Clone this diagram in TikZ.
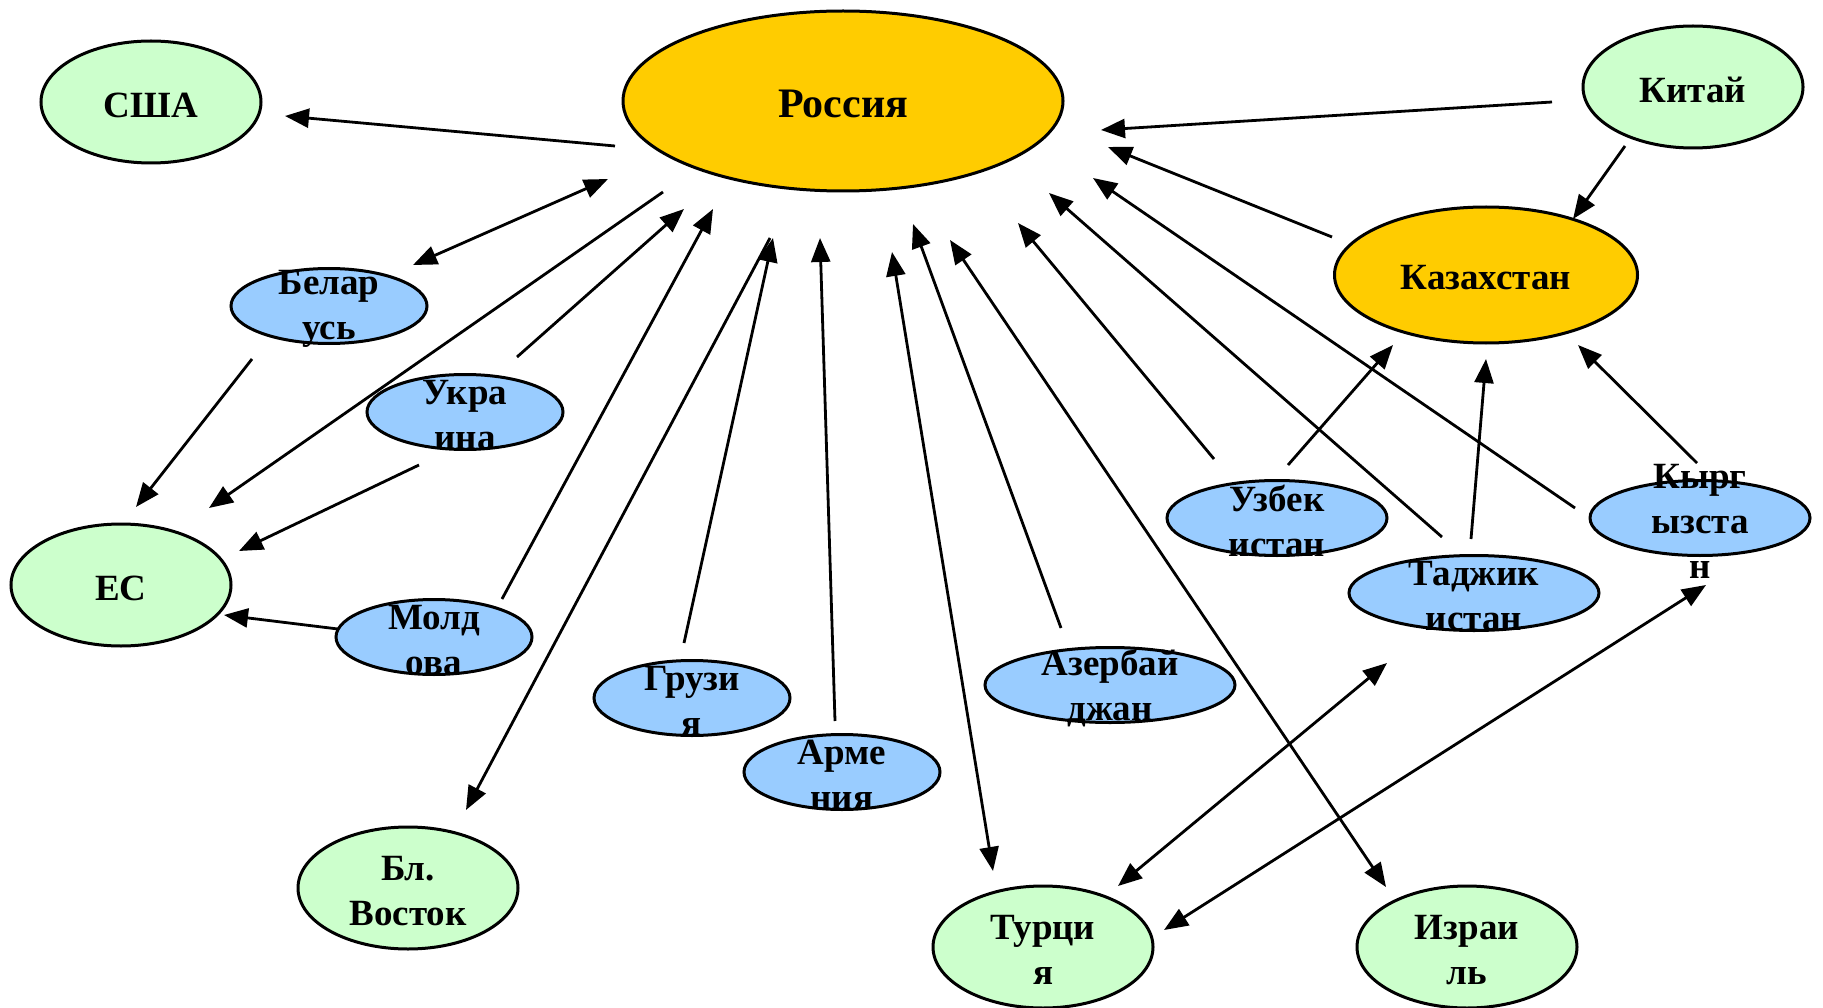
\documentclass[tikz,border=0pt]{standalone}
\usepackage{fontspec}
\setmainfont{Liberation Serif}
\usetikzlibrary{shapes.geometric,arrows.meta}
\definecolor{cgreen}{HTML}{CCFFCC}
\definecolor{cyellow}{HTML}{FFCC00}
\definecolor{cblue}{HTML}{99CCFF}
\tikzset{
  ell/.style={ellipse, draw=black, line width=3pt, inner sep=0pt},
  greenell/.style={ell, fill=cgreen, minimum width=220pt, minimum height=122pt},
  yellowell/.style={ell, fill=cyellow},
  blueell/.style={ell, fill=cblue, minimum width=196pt, minimum height=75pt},
  midblue/.style={blueell, minimum width=220pt},
  wideblue/.style={blueell, minimum width=250pt},
  lbl/.style={font=\fontsize{37}{45}\selectfont\bfseries, align=center, inner sep=0pt, yshift=-3pt},
  biglbl/.style={lbl, font=\fontsize{42}{50}\selectfont\bfseries},
  tip/.tip={Triangle[length=24pt,width=19pt]},
  arr/.style={line width=2.8pt, -tip},
  darr/.style={line width=2.8pt, tip-tip},
}
\begin{document}
\begin{tikzpicture}[x=1pt,y=-1pt]
\useasboundingbox (0,0) rectangle (1823,1008);

% ellipses
\node[greenell] (usa) at (151,102) {};
\node[yellowell, minimum width=440pt, minimum height=180pt] (rus) at (843,101) {};
\node[greenell] (chn) at (1693,87) {};
\node[yellowell, minimum width=303pt, minimum height=136pt] (kaz) at (1486,275) {};
\node[blueell] (bel) at (329,306) {};
\node[blueell] (ukr) at (465,412) {};
\node[greenell] (eu) at (121,585) {};
\node[blueell] (mol) at (434,637) {};
\node[blueell] (geo) at (692,698) {};
\node[blueell] (arm) at (842,772) {};
\node[wideblue] (aze) at (1110,685) {};
\node[midblue] (uzb) at (1277,518) {};
\node[wideblue] (taj) at (1474,593) {};
\node[midblue] (kyr) at (1700,518) {};
\node[greenell] (blv) at (408,888) {};
\node[greenell] (tur) at (1043,947) {};
\node[greenell] (isr) at (1467,947) {};

% labels
\node[lbl] (usa-t) at (usa) {США};
\node[biglbl] (rus-t) at (rus) {Россия};
\node[lbl] (chn-t) at (chn) {Китай};
\node[lbl] (kaz-t) at (kaz) {Казахстан};
\node[lbl] (bel-t) at (bel) {Белар\\усь};
\node[lbl] (ukr-t) at (ukr) {Укра\\ина};
\node[lbl] (eu-t) at (eu) {ЕС};
\node[lbl] (mol-t) at (mol) {Молд\\ова};
\node[lbl] (geo-t) at (geo) {Грузи\\я};
\node[lbl] (arm-t) at (arm) {Арме\\ния};
\node[lbl] (aze-t) at (aze) {Азербай\\джан};
\node[lbl] (uzb-t) at (uzb) {Узбек\\истан};
\node[lbl] (taj-t) at (taj) {Таджик\\истан};
\node[lbl] (kyr-t) at (kyr) {Кырг\\ызста\\н};
\node[lbl] (blv-t) at (blv) {Бл.\\Восток};
\node[lbl] (tur-t) at (tur) {Турци\\я};
\node[lbl] (isr-t) at (isr) {Израи\\ль};

% connector end points
\coordinate (rus-usa) at (615,146);   \coordinate (usa-in) at (285,116);
\coordinate (bel-rus) at (413,265);   \coordinate (rus-bel) at (608,179);
\coordinate (bel-eu) at (252,359);    \coordinate (eu-bel) at (136,507);
\coordinate (rus-eu) at (663,192);    \coordinate (eu-rus) at (209,508);
\coordinate (ukr-rus) at (517,357);   \coordinate (rus-ukr) at (684,209);
\coordinate (ukr-eu) at (419,465);    \coordinate (eu-ukr) at (239,551);
\coordinate (mol-eu) at (338,629);    \coordinate (eu-mol) at (224,615);
\coordinate (mol-rus) at (502,599);   \coordinate (rus-mol) at (713,209);
\coordinate (rus-blv) at (770,238);   \coordinate (blv-rus) at (466,810);
\coordinate (geo-rus) at (684,643);   \coordinate (rus-geo) at (773,238);
\coordinate (arm-rus) at (835,721);   \coordinate (rus-arm) at (820,238);
\coordinate (rus-tur) at (892,252);   \coordinate (tur-rus) at (993,871);
\coordinate (aze-rus) at (1061,628);  \coordinate (rus-aze) at (913,224);
\coordinate (rus-isr) at (950,240);   \coordinate (isr-rus) at (1386,887);
\coordinate (uzb-rus) at (1214,459);  \coordinate (rus-uzb) at (1018,223);
\coordinate (taj-rus) at (1442,537);  \coordinate (rus-taj) at (1049,193);
\coordinate (kyr-rus) at (1575,508);  \coordinate (rus-kyr) at (1093,178);
\coordinate (kaz-rus) at (1332,237);  \coordinate (rus-kaz) at (1108,147);
\coordinate (chn-rus) at (1552,102);  \coordinate (rus-chn) at (1101,130);
\coordinate (chn-kaz) at (1625,146);  \coordinate (kaz-chn) at (1573,219);
\coordinate (uzb-kaz) at (1288,465);  \coordinate (kaz-uzb) at (1393,345);
\coordinate (taj-kaz) at (1471,539);  \coordinate (kaz-taj) at (1486,359);
\coordinate (kyr-kaz) at (1697,463);  \coordinate (kaz-kyr) at (1578,345);
\coordinate (tur-taj) at (1118,886);  \coordinate (taj-tur) at (1387,663);
\coordinate (tur-kyr) at (1164,930);  \coordinate (kyr-tur) at (1706,585);

% connectors
\draw[arr] (rus-usa) -- (usa-in);
\draw[darr] (bel-rus) -- (rus-bel);
\draw[arr] (bel-eu) -- (eu-bel);
\draw[arr] (rus-eu) -- (eu-rus);
\draw[arr] (ukr-rus) -- (rus-ukr);
\draw[arr] (ukr-eu) -- (eu-ukr);
\draw[arr] (mol-eu) -- (eu-mol);
\draw[arr] (mol-rus) -- (rus-mol);
\draw[arr] (rus-blv) -- (blv-rus);
\draw[arr] (geo-rus) -- (rus-geo);
\draw[arr] (arm-rus) -- (rus-arm);
\draw[darr] (rus-tur) -- (tur-rus);
\draw[arr] (aze-rus) -- (rus-aze);
\draw[darr] (rus-isr) -- (isr-rus);
\draw[arr] (uzb-rus) -- (rus-uzb);
\draw[arr] (taj-rus) -- (rus-taj);
\draw[arr] (kyr-rus) -- (rus-kyr);
\draw[arr] (kaz-rus) -- (rus-kaz);
\draw[arr] (chn-rus) -- (rus-chn);
\draw[arr] (chn-kaz) -- (kaz-chn);
\draw[arr] (uzb-kaz) -- (kaz-uzb);
\draw[arr] (taj-kaz) -- (kaz-taj);
\draw[arr] (kyr-kaz) -- (kaz-kyr);
\draw[darr] (tur-taj) -- (taj-tur);
\draw[darr] (tur-kyr) -- (kyr-tur);
\end{tikzpicture}
\end{document}
